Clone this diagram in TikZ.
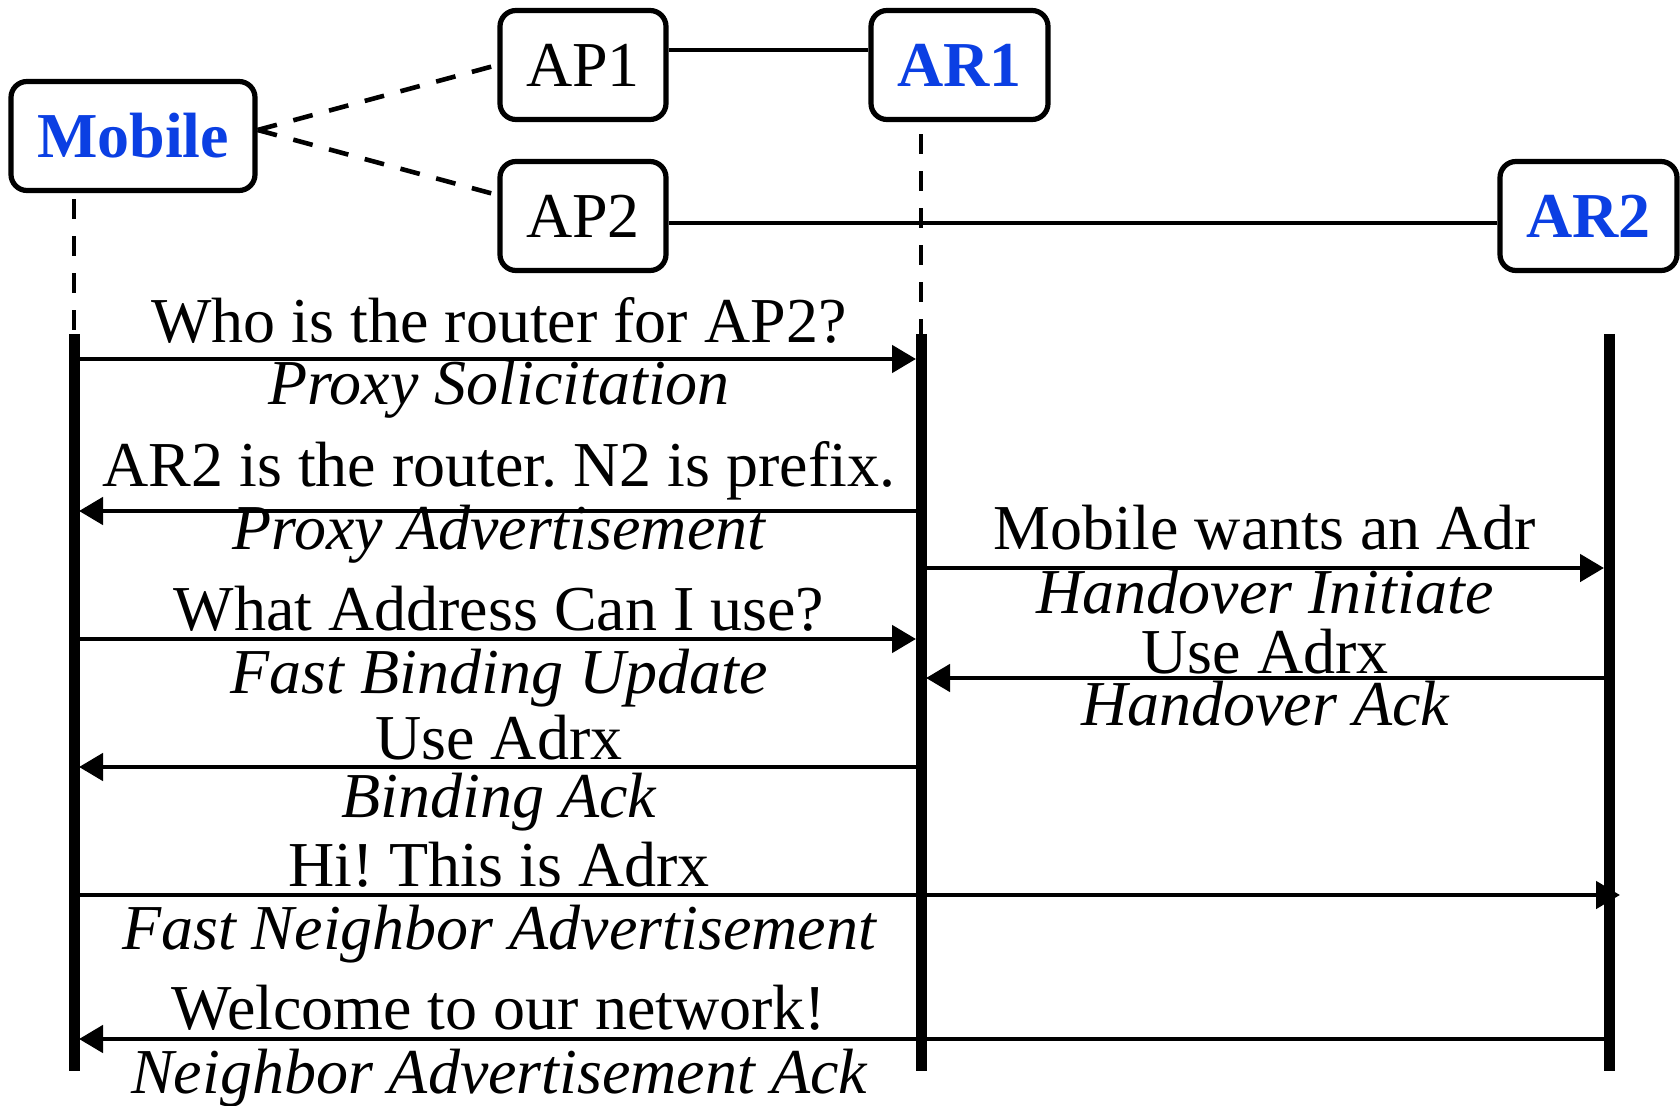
\documentclass[tikz,border=0pt]{standalone}
\usepackage{fontspec}
\setmainfont{Liberation Serif}
\usetikzlibrary{arrows.meta,positioning}
\definecolor{netblue}{HTML}{0B3FE3}
\newcommand{\Lbl}{\fontsize{32}{38}\selectfont}
\frenchspacing

\begin{document}
\begin{tikzpicture}[x=0.5pt,y=-0.5pt, font=\Lbl,
    box/.style={draw,line width=2.6pt,rounded corners=8pt,minimum height=54.5pt,inner sep=0pt},
    hub/.style={box,text=netblue,font=\Lbl\bfseries},
    link/.style={line width=2.4pt},
    radio/.style={line width=2.3pt,dash pattern=on 10pt off 8.5pt},
    life/.style={line width=5.5pt},
    msg/.style={line width=2.4pt,-{Triangle[length=12pt,width=13.5pt]}}]
  \useasboundingbox (0,0) rectangle (1680,1106);
  % boxes
  \node[hub,minimum width=122pt] (mobile) at (133,136) {Mobile};
  \node[box,minimum width=83pt] (ap1) at (583,65) {AP1};
  \node[box,minimum width=83pt] (ap2) at (583,216) {AP2};
  \node[hub,minimum width=88.5pt] (ar1) at (959.5,65) {AR1};
  \node[hub,minimum width=88.5pt] (ar2) at (1588.5,216) {AR2};
  \draw[radio] ([yshift=3pt]mobile.east) -- (ap1.west);
  \draw[radio] ([yshift=3pt]mobile.east) -- ([yshift=10.5pt]ap2.west);
  \draw[link] ([yshift=7.5pt]ap1.east) -- ([yshift=7.5pt]ar1.west);
  \draw[link] ([yshift=-3.5pt]ap2.east) -- ([yshift=-3.5pt]ar2.west);
  % lifelines
  \coordinate (mobtop) at (74,334);  \coordinate (mobbot) at (74,1071);
  \coordinate (ar1top) at (921,334); \coordinate (ar1bot) at (921,1071);
  \coordinate (ar2top) at (1609,334); \coordinate (ar2bot) at (1609,1071);
  \draw[radio] ([yshift=-3pt]mobile.south -| mobtop) -- (mobtop);
  \draw[radio] ([yshift=-6pt]ar1.south -| ar1top) -- (ar1top);
  \foreach \l in {mob,ar1,ar2}{\draw[life] (\l top) -- (\l bot);}
  % messages
  \foreach \y/\a/\b/\s/\lx/\ub/\ut/\db/\dt [count=\i] in {
      359/mobtop/ar1top/2.5/499/343/Who is the router for AP2?/405/Proxy Solicitation,
      511/ar1top/mobtop/2.5/499/487/AR2 is the router. N2 is prefix./549/Proxy Advertisement,
      568/ar1top/ar2top/2.5/1265/550/Mobile wants an Adr/613/Handover Initiate,
      639/mobtop/ar1top/2.5/499/630/What Address Can I use?/693/Fast Binding Update,
      678/ar2top/ar1top/2.5/1265/673/Use Adrx/725/Handover Ack,
      767/ar1top/mobtop/2.5/499/759/Use Adrx/817/Binding Ack,
      895/mobtop/ar2top/-5.5/499/886/Hi! This is Adrx/949/Fast Neighbor Advertisement,
      1039/ar2top/mobtop/2.5/499/1029/Welcome to our network!/1093/Neighbor Advertisement Ack}{
    \draw[msg,shorten >=\s pt] (\a |- 0,\y) -- (\b |- 0,\y);
    \node[anchor=base] (up\i) at (\lx,\ub) {\ut};
    \node[anchor=base,font=\Lbl\itshape] (dn\i) at (\lx,\db) {\dt};}
\end{tikzpicture}
\end{document}
